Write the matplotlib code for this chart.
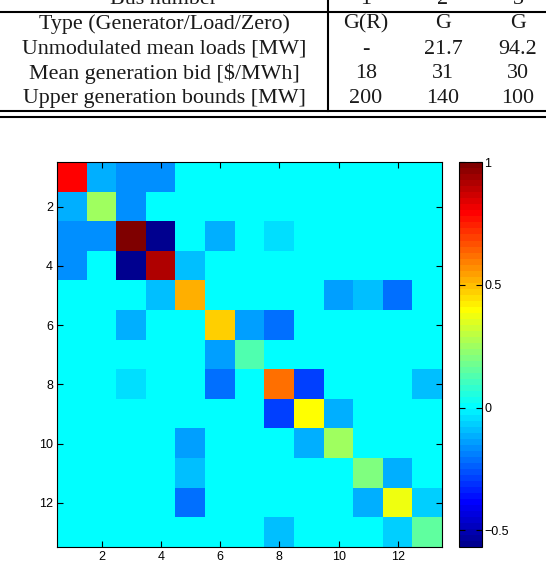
import matplotlib
matplotlib.use("Agg")
import matplotlib.pyplot as plt
from matplotlib.colors import ListedColormap
from matplotlib.lines import Line2D
import numpy as np

# table strip (cropped at the top in the reference)
header_label = "Bus number"
bus_numbers = ["1", "2", "3"]
row_labels = [
    "Type (Generator/Load/Zero)",
    "Unmodulated mean loads [MW]",
    "Mean generation bid [$/MWh]",
    "Upper generation bounds [MW]",
]
row_values = [
    ["G(R)", "G", "G"],
    ["-", "21.7", "94.2"],
    ["18", "31", "30"],
    ["200", "140", "100"],
]

# 13x13 symmetric matrix (upper triangle)
n_bus = 13
diag_vals = [0.79, 0.25, 1.00, 0.91, 0.51, 0.47, 0.14, 0.62, 0.40, 0.25, 0.20, 0.38, 0.16]
off_diag = [
    (1, 2, -0.12), (1, 3, -0.17), (1, 4, -0.17),
    (2, 3, -0.17),
    (3, 4, -0.55), (3, 6, -0.12), (3, 8, -0.05),
    (4, 5, -0.09),
    (5, 10, -0.13), (5, 11, -0.09), (5, 12, -0.22),
    (6, 7, -0.13), (6, 8, -0.22),
    (8, 9, -0.29), (8, 13, -0.08),
    (9, 10, -0.12),
    (11, 12, -0.12),
    (12, 13, -0.07),
]
vmin, vmax = -0.57, 1.0
cbar_ticks = [-0.5, 0, 0.5, 1]
cbar_labels = ["\u22120.5", "0", "0.5", "1"]
axis_ticks = [2, 4, 6, 8, 10, 12]

M = np.zeros((n_bus, n_bus))
for i, v in enumerate(diag_vals):
    M[i, i] = v
for i, j, v in off_diag:
    M[i - 1, j - 1] = v
    M[j - 1, i - 1] = v


def matlab_jet(m=64):
    # same construction as MATLAB's jet(m)
    n = int(np.ceil(m / 4))
    u = np.concatenate([np.arange(1, n + 1) / n, np.ones(n - 1), np.arange(n, 0, -1) / n])
    g = int(np.ceil(n / 2)) - (1 if m % 4 == 1 else 0) + np.arange(1, len(u) + 1)
    r = g + n
    b = g - n
    J = np.zeros((m, 3))
    J[r[r <= m] - 1, 0] = u[r <= m]
    J[g[g <= m] - 1, 1] = u[g <= m]
    J[b[b >= 1] - 1, 2] = u[b >= 1]
    return ListedColormap(J)


W, H = 546, 562
fig = plt.figure(figsize=(W / 100, H / 100), dpi=100)


def fx(px):
    return px / W


def fy(py):
    return 1 - py / H


# --- table part ---
serif = "Liberation Serif"
tsize = 15.8
tcolor = "#1a1a1a"
label_x = 164
col_x = [366, 443, 518]
baselines = [28.5, 53.5, 78.5, 103.5]

fig.text(fx(label_x), fy(3.5), header_label, ha="center", va="baseline",
         family=serif, fontsize=tsize, color=tcolor)
for cx, b in zip(col_x, bus_numbers):
    fig.text(fx(cx), fy(3.5), b, ha="center", va="baseline",
             family=serif, fontsize=tsize, color=tcolor)

for by, lab, vals in zip(baselines, row_labels, row_values):
    fig.text(fx(label_x), fy(by), lab, ha="center", va="baseline",
             family=serif, fontsize=tsize, color=tcolor)
    for cx, v in zip(col_x, vals):
        fig.text(fx(cx), fy(by), v, ha="center", va="baseline",
                 family=serif, fontsize=tsize, color=tcolor)

lw = 1.5
for y in [11.7, 111.0, 117.3]:
    fig.add_artist(Line2D([0, 1], [fy(y), fy(y)], color="black", lw=lw))
fig.add_artist(Line2D([fx(327.7), fx(327.7)], [fy(-5), fy(111.0)], color="black", lw=lw))

# --- matrix part ---
plt.rcParams["font.family"] = ["Liberation Sans", "DejaVu Sans"]
cmap = matlab_jet(64)

ax = fig.add_axes([fx(57.3), fy(547.3), fx(385), 385 / H])
im = ax.imshow(M, cmap=cmap, vmin=vmin, vmax=vmax, interpolation="nearest",
               extent=(0.5, n_bus + 0.5, n_bus + 0.5, 0.5), aspect="auto")
ax.set_xticks(axis_ticks)
ax.set_yticks(axis_ticks)
ax.tick_params(direction="in", length=4, width=0.8, labelsize=9, top=True, right=True, pad=3)
for s in ax.spines.values():
    s.set_linewidth(0.8)

cax = fig.add_axes([fx(459.3), fy(547.3), fx(22.4), 385 / H])
cb = fig.colorbar(im, cax=cax, ticks=cbar_ticks)
cb.ax.set_yticklabels(cbar_labels)
cb.ax.tick_params(direction="in", length=4, width=0.8, labelsize=9, left=True, right=True, pad=2)
cb.outline.set_linewidth(0.8)

fig.savefig("out.png", dpi=100)
